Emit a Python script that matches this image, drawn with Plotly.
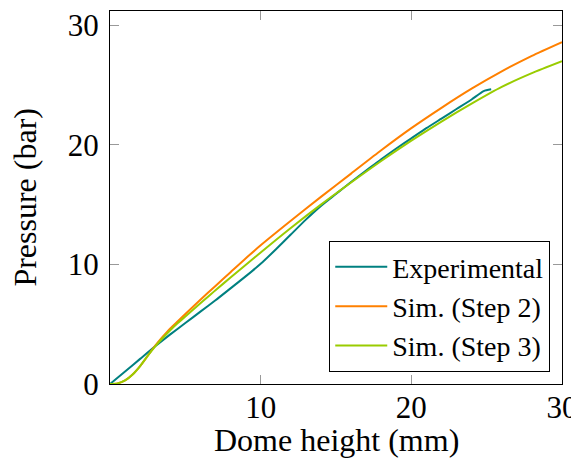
import plotly.graph_objects as go

exp_x = [0, 1, 2, 3, 4, 5, 6, 7, 8, 9, 10, 11, 12, 13, 14, 15, 16, 17, 18, 19, 20, 21, 22, 23, 24, 24.8, 25.3]
exp_y = [0, 1.05, 2.1, 3.15, 4.15, 5.1, 6.05, 7.0, 8.0, 9.0, 10.05, 11.25, 12.5, 13.75, 14.9, 15.9, 16.9, 17.85, 18.8, 19.7, 20.55, 21.4, 22.2, 23.0, 23.8, 24.5, 24.65]

sim_x = [0, 0.5, 1, 1.5, 2, 2.5, 3, 3.5, 4, 4.5, 5, 6, 7, 8, 9, 10, 12, 14, 16, 18, 20, 22, 24, 26, 28, 30]
step2_y = [0, 0.05, 0.3, 0.8, 1.5, 2.35, 3.2, 3.95, 4.65, 5.25, 5.85, 7.05, 8.2, 9.35, 10.5, 11.6, 13.65, 15.65, 17.6, 19.55, 21.4, 23.1, 24.7, 26.15, 27.45, 28.6]
step3_y = [0, 0.05, 0.3, 0.8, 1.5, 2.35, 3.15, 3.85, 4.5, 5.1, 5.65, 6.75, 7.85, 8.9, 9.95, 11.0, 13.05, 15.0, 16.85, 18.65, 20.35, 21.95, 23.45, 24.85, 26.0, 27.0]

x_ticks = [10, 20, 30]
y_ticks = [0, 10, 20, 30]
x_title = "Dome height (mm)"
y_title = "Pressure (bar)"

FONT = "Liberation Serif"

fig = go.Figure()
fig.add_trace(go.Scatter(x=exp_x, y=exp_y, mode="lines", name="Experimental",
                         line=dict(color="#008080", width=2, shape="spline", smoothing=0.6)))
fig.add_trace(go.Scatter(x=sim_x, y=step2_y, mode="lines", name="Sim. (Step 2)",
                         line=dict(color="#ff8000", width=2, shape="spline", smoothing=0.6)))
fig.add_trace(go.Scatter(x=sim_x, y=step3_y, mode="lines", name="Sim. (Step 3)",
                         line=dict(color="#99cc00", width=2, shape="spline", smoothing=0.6)))

axis_common = dict(
    showgrid=False, zeroline=False, showline=True, linecolor="black", linewidth=1,
    mirror="ticks", ticks="inside", ticklen=9, tickcolor="#999999", tickwidth=1,
    tickfont=dict(family=FONT, size=31, color="black"), automargin=False,
)

# the page body has an 8px default margin, so the figure is offset by 8px
fig.update_layout(
    width=571, height=460,
    margin=dict(l=102, r=17, t=3, b=84),
    paper_bgcolor="white", plot_bgcolor="white",
    font=dict(family=FONT, size=31, color="black"),
    xaxis=dict(range=[0, 30], tickvals=x_ticks, ticklabelstandoff=-4, **axis_common),
    yaxis=dict(range=[0, 31.2], tickvals=y_ticks, ticklabelstandoff=4, **axis_common),
    legend=dict(x=0.974, y=0.032, xanchor="right", yanchor="bottom",
                bordercolor="black", borderwidth=1, bgcolor="white",
                font=dict(family=FONT, size=28), tracegroupgap=0, itemwidth=52),
    showlegend=True,
    annotations=[
        dict(text=x_title, xref="paper", yref="paper", x=0.5, y=-0.15,
             xanchor="center", yanchor="middle", showarrow=False,
             font=dict(family=FONT, size=32, color="black")),
        dict(text=y_title, xref="paper", yref="paper", x=-0.19, y=0.5,
             xanchor="center", yanchor="middle", textangle=-90, showarrow=False,
             font=dict(family=FONT, size=32, color="black")),
    ],
)

fig.write_html("out.html")
